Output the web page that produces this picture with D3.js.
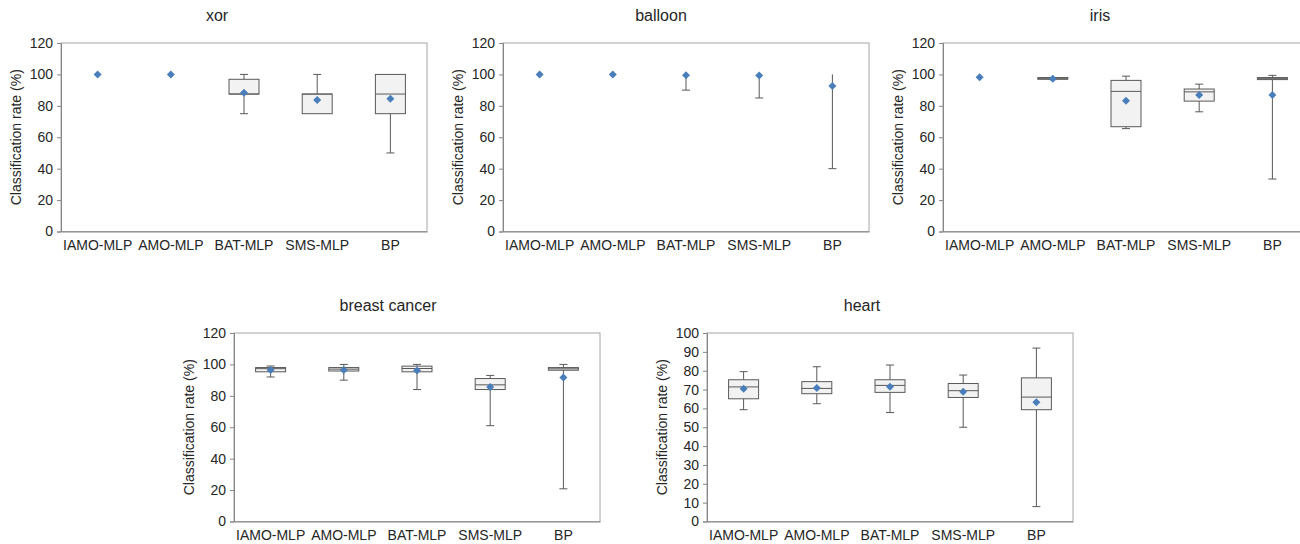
<!DOCTYPE html>
<html>
<head>
<meta charset="utf-8">
<script src="https://cdn.jsdelivr.net/npm/d3@7"></script>
<style>
  body { margin: 0; background: #fff; }
  text { font-family: Arial, "Liberation Sans", sans-serif; fill: #262626; }
</style>
</head>
<body>
<div id="chart"></div>
<script>
// categories and stats: [min, q1, median, q3, max, mean]
const categories = ["IAMO-MLP", "AMO-MLP", "BAT-MLP", "SMS-MLP", "BP"];
const statKeys = ["min", "q1", "median", "q3", "max", "mean"];

const xorStats = [
  [100, 100, 100, 100, 100, 100],
  [100, 100, 100, 100, 100, 100],
  [75, 87.5, 87.5, 96.9, 100, 88.3],
  [75, 75, 87.5, 87.5, 100, 83.7],
  [50, 75, 87.5, 100, 100, 84.5]
];
const balloonStats = [
  [100, 100, 100, 100, 100, 100],
  [100, 100, 100, 100, 100, 100],
  [90, 100, 100, 100, 100, 99.4],
  [85, 100, 100, 100, 100, 99.3],
  [40, 100, 100, 100, 100, 92.6]
];
const irisStats = [
  [98, 98, 98, 98, 98, 98.2],
  [96.7, 96.9, 97.3, 98, 98, 97.3],
  [65.5, 66.7, 89.2, 96.2, 98.9, 83.3],
  [76.2, 83, 88.9, 90.7, 93.8, 86.9],
  [33.4, 96.7, 97.3, 98, 99.4, 86.9]
];
const breastStats = [
  [92, 95.3, 97.3, 98, 99, 96.5],
  [90, 95.8, 97, 98, 100, 96.5],
  [84, 95.3, 97.4, 98.9, 100, 96.2],
  [61, 84, 87, 91, 93, 85.7],
  [20.8, 96.3, 97.2, 98, 100, 91.6]
];
const heartStats = [
  [59.3, 65.1, 71.4, 75.2, 79.5, 70.4],
  [62.5, 67.8, 70.6, 74.2, 82.1, 70.8],
  [57.8, 68.5, 72.2, 75.2, 83, 71.5],
  [50, 65.8, 69.4, 73.2, 77.7, 68.8],
  [7.9, 59.3, 66, 76.2, 92, 63.2]
];

const titles = ["xor", "balloon", "iris", "breast cancer", "heart"];
const yMaxes = [120, 120, 120, 120, 100];
const yStepTicks = [20, 20, 20, 20, 10];

// layout of each panel (plot area)
const panels = [
  { stats: xorStats, left: 61, top: 43, titleX: 217, titleY: 17 },
  { stats: balloonStats, left: 503, top: 43, titleX: 661, titleY: 17 },
  { stats: irisStats, left: 943, top: 43, titleX: 1100, titleY: 17 },
  { stats: breastStats, left: 234, top: 333, titleX: 388, titleY: 307 },
  { stats: heartStats, left: 707, top: 333, titleX: 862, titleY: 307 }
];

const W = 1300, H = 544;
const plotW = 366, plotH = 188.5;

const svg = d3.select("#chart").append("svg")
  .attr("width", W)
  .attr("height", H);

panels.forEach(function (p, idx) {
  const rows = p.stats.map((r, i) => {
    const o = { cat: categories[i] };
    statKeys.forEach((k, j) => o[k] = r[j]);
    return o;
  });

  const x = d3.scaleBand()
    .domain(categories)
    .range([p.left, p.left + plotW]);

  const y = d3.scaleLinear()
    .domain([0, yMaxes[idx]])
    .range([p.top + plotH, p.top]);

  const g = svg.append("g");

  // plot frame
  g.append("rect")
    .attr("x", p.left)
    .attr("y", p.top)
    .attr("width", plotW)
    .attr("height", plotH)
    .attr("fill", "none")
    .attr("stroke", "#a6a6a6")
    .attr("stroke-width", 1);

  // title
  g.append("text")
    .attr("x", p.titleX)
    .attr("y", p.titleY)
    .attr("text-anchor", "middle")
    .attr("dominant-baseline", "middle")
    .style("font-size", "16px")
    .text(titles[idx]);

  // y axis
  const yAxis = g.append("g")
    .attr("transform", `translate(${p.left}, 0)`)
    .call(d3.axisLeft(y)
      .tickValues(d3.range(0, yMaxes[idx] + 0.001, yStepTicks[idx]))
      .tickSize(4)
      .tickPadding(4));
  yAxis.select(".domain").attr("stroke", "#868686");
  yAxis.selectAll(".tick line").attr("stroke", "#868686");
  yAxis.selectAll(".tick text")
    .style("font-size", "14px")
    .style("font-family", "Arial, 'Liberation Sans', sans-serif")
    .attr("fill", "#262626");

  // x axis
  const xAxis = g.append("g")
    .attr("transform", `translate(0, ${p.top + plotH})`)
    .call(d3.axisBottom(x).tickSize(0).tickPadding(9));
  xAxis.select(".domain").attr("stroke", "#868686");
  xAxis.selectAll(".tick text")
    .style("font-size", "14px")
    .style("font-family", "Arial, 'Liberation Sans', sans-serif")
    .attr("fill", "#262626");

  // y axis title
  g.append("text")
    .attr("transform", `translate(${p.left - 44}, ${p.top + plotH / 2}) rotate(-90)`)
    .attr("text-anchor", "middle")
    .attr("dominant-baseline", "middle")
    .style("font-size", "14px")
    .text("Classification rate (%)");

  const boxW = 30, capW = 8;
  const cx = d => x(d.cat) + x.bandwidth() / 2;
  const lineCol = "#595959";

  const item = g.selectAll(".item")
    .data(rows)
    .enter()
    .append("g")
    .attr("class", "item");

  // whiskers
  item.filter(d => d.max > d.q3).each(function (d) {
    const s = d3.select(this);
    s.append("line")
      .attr("x1", cx(d)).attr("x2", cx(d))
      .attr("y1", y(d.max)).attr("y2", y(d.q3))
      .attr("stroke", lineCol);
    s.append("line")
      .attr("x1", cx(d) - capW / 2).attr("x2", cx(d) + capW / 2)
      .attr("y1", y(d.max)).attr("y2", y(d.max))
      .attr("stroke", lineCol);
  });
  item.filter(d => d.min < d.q1).each(function (d) {
    const s = d3.select(this);
    s.append("line")
      .attr("x1", cx(d)).attr("x2", cx(d))
      .attr("y1", y(d.q1)).attr("y2", y(d.min))
      .attr("stroke", lineCol);
    s.append("line")
      .attr("x1", cx(d) - capW / 2).attr("x2", cx(d) + capW / 2)
      .attr("y1", y(d.min)).attr("y2", y(d.min))
      .attr("stroke", lineCol);
  });

  // box (skipped when it collapses to a single value)
  const boxed = item.filter(d => d.q3 > d.q1);
  boxed.append("rect")
    .attr("x", d => cx(d) - boxW / 2)
    .attr("y", d => y(d.q3))
    .attr("width", boxW)
    .attr("height", d => y(d.q1) - y(d.q3))
    .attr("fill", "#f2f2f2")
    .attr("stroke", lineCol)
    .attr("stroke-width", 1);

  // median
  boxed.append("line")
    .attr("x1", d => cx(d) - boxW / 2).attr("x2", d => cx(d) + boxW / 2)
    .attr("y1", d => y(d.median)).attr("y2", d => y(d.median))
    .attr("stroke", lineCol);

  // mean marker
  item.append("path")
    .attr("d", d3.symbol().type(d3.symbolSquare).size(32))
    .attr("transform", d => `translate(${cx(d)}, ${y(d.mean)}) rotate(45)`)
    .attr("fill", "#4a7ebb");
});
</script>
</body>
</html>
